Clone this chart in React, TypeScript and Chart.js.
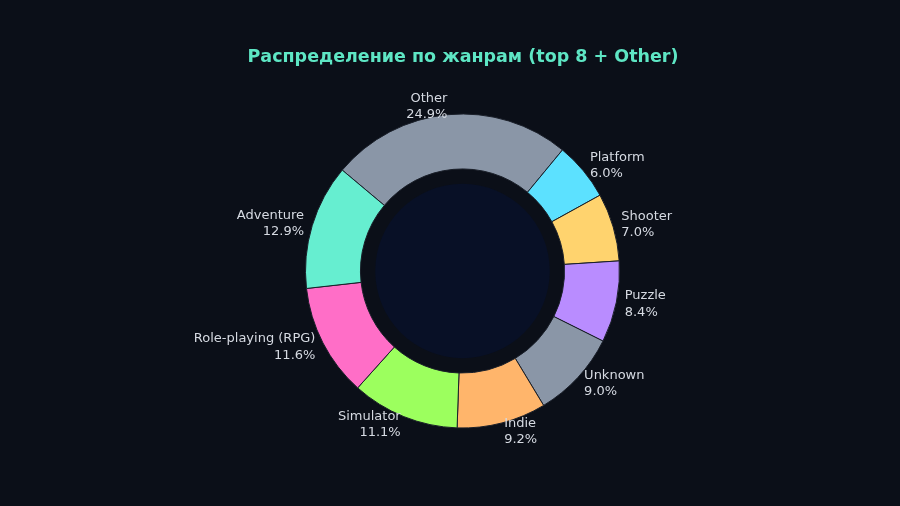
import React, { useEffect, useRef } from "react";
import { Chart, registerables } from "chart.js";

Chart.register(...registerables);

const TITLE = "Распределение по жанрам (top 8 + Other)";
const genres = ["Other", "Platform", "Shooter", "Puzzle", "Unknown", "Indie", "Simulator", "Role-playing (RPG)", "Adventure"];
const shares = [24.9, 6.0, 7.0, 8.4, 9.0, 9.2, 11.1, 11.6, 12.9];
const colors = ["#8a96a7", "#5ce1ff", "#ffd36e", "#b98cff", "#8a96a7", "#ffb56b", "#9cff5e", "#ff6ec7", "#66eed0"];

const BG = "#0b0f18";

const labelPlugin = {
  id: "labelsAndCenter",
  beforeDraw(chart: any) {
    const ctx = chart.ctx;
    ctx.save();
    ctx.fillStyle = BG;
    ctx.fillRect(0, 0, chart.width, chart.height);
    ctx.restore();
  },
  afterDatasetsDraw(chart: any) {
    const ctx = chart.ctx;
    const meta = chart.getDatasetMeta(0);
    const arcs = meta.data;
    if (!arcs.length) return;
    const a0 = arcs[0].getProps(["x", "y", "innerRadius", "outerRadius"], true);
    ctx.save();
    ctx.beginPath();
    ctx.arc(a0.x, a0.y, a0.innerRadius * 0.855, 0, Math.PI * 2);
    ctx.fillStyle = "#081026";
    ctx.fill();
    ctx.restore();

    ctx.save();
    ctx.font = "13px 'DejaVu Sans'";
    ctx.fillStyle = "#d6dae2";
    ctx.textBaseline = "middle";
    arcs.forEach((arc: any, i: number) => {
      const p = arc.getProps(["x", "y", "startAngle", "endAngle", "outerRadius"], true);
      const mid = (p.startAngle + p.endAngle) / 2;
      const r = p.outerRadius * 1.054;
      const px = p.x + Math.cos(mid) * r;
      const py = p.y + Math.sin(mid) * r;
      ctx.textAlign = px >= p.x ? "left" : "right";
      ctx.fillText(genres[i], px, py - 8);
      ctx.fillText(shares[i].toFixed(1) + "%", px, py + 8.5);
    });
    ctx.restore();

    ctx.save();
    ctx.font = "bold 17.5px 'DejaVu Sans'";
    ctx.fillStyle = "#5ee6c4";
    ctx.textAlign = "center";
    ctx.textBaseline = "middle";
    ctx.fillText(TITLE, 463, 57);
    ctx.restore();
  },
};

export default function App() {
  const ref = useRef<HTMLCanvasElement>(null);
  useEffect(() => {
    const prevMargin = document.body.style.margin;
    document.body.style.margin = "0";
    document.body.style.background = BG;
    const chart = new Chart(ref.current as HTMLCanvasElement, {
      type: "doughnut",
      data: {
        labels: genres,
        datasets: [
          {
            data: shares,
            backgroundColor: colors,
            borderColor: "#1a1f29",
            borderWidth: 1,
            hoverOffset: 0,
          },
        ],
      },
      options: {
        responsive: false,
        animation: false,
        rotation: -50,
        cutout: "65%",
        layout: { padding: { top: 113, bottom: 77, left: 305, right: 280 } },
        plugins: {
          legend: { display: false },
          tooltip: { enabled: false },
          title: { display: false },
        },
      },
      plugins: [labelPlugin],
    });
    return () => {
      chart.destroy();
      document.body.style.margin = prevMargin;
    };
  }, []);
  return (
    <div style={{ width: 900, height: 506, background: BG }}>
      <canvas ref={ref} width={900} height={506} style={{ display: "block" }} />
    </div>
  );
}
